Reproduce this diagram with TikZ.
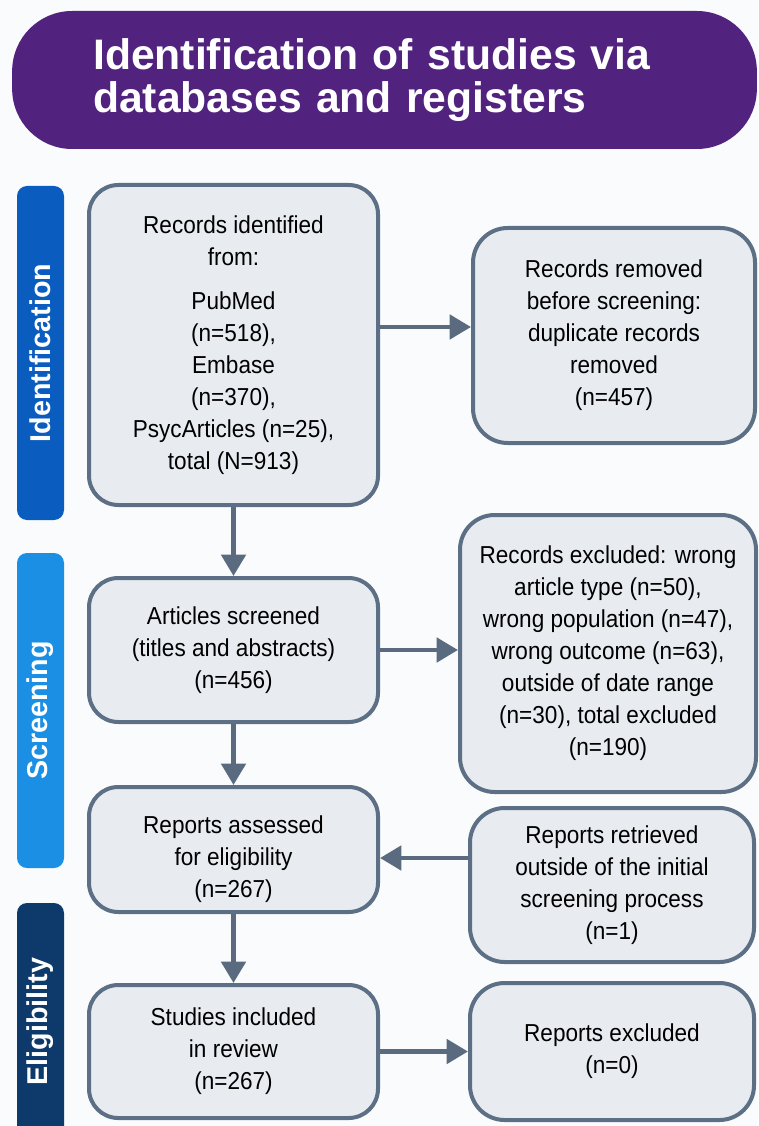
\documentclass[tikz,border=0pt]{standalone}
\usepackage{fontspec}
\setmainfont{Liberation Sans}
\newfontfamily\boxfont{Liberation Sans}[FakeStretch=0.92]
\usetikzlibrary{arrows.meta}
\definecolor{pagebg}{RGB}{250,251,252}
\definecolor{banner}{RGB}{81,35,127}
\definecolor{idcol}{RGB}{11,92,191}
\definecolor{scrcol}{RGB}{26,143,227}
\definecolor{elcol}{RGB}{13,58,106}
\definecolor{boxfill}{RGB}{232,236,241}
\definecolor{boxline}{RGB}{92,111,133}
\definecolor{arrowcol}{RGB}{90,107,128}
\tikzstyle{title}=[fill=banner,rounded corners=45pt,minimum height=103.5pt,text width=437pt,inner xsep=60.75pt,align=left,text=white,font=\fontsize{32}{32}\bfseries\selectfont]
\tikzstyle{phase}=[rotate=90,rounded corners=7.5pt,minimum height=35.25pt,inner sep=0pt,text=white,font=\fontsize{21.5}{24}\bfseries\selectfont]
\tikzstyle{box}=[draw=boxline,fill=boxfill,line width=3pt,rounded corners=22pt,align=center,inner sep=0pt,font=\boxfont\fontsize{18.4}{24}\selectfont]
\tikzstyle{edge}=[draw=arrowcol,line width=3.6pt,-{Triangle[length=16pt,width=18pt]}]

\begin{document}
\begin{tikzpicture}[x=0.75pt,y=-0.75pt]
    \fill[pagebg] (0,0) rectangle (758,1126);
    \useasboundingbox (0,0) rectangle (758,1126);

    % Banner at the top
    \node[title] (head) at (384.5,80) {Identification of studies via\\databases and registers};

    % Phase bars on the left
    \foreach \pos/\name/\col/\len/\txt in {{(40.5,353)/ident/idcol/250.5pt/Identification},
                                          {(40.5,710.5)/screen/scrcol/236.25pt/Screening},
                                          {(40.5,1021.5)/elig/elcol/177.75pt/Eligibility}}
        \node[phase,fill=\col,minimum width=\len] (\name) at \pos {\txt};

    % Left column
    \node[box,minimum width=216.75pt,minimum height=240pt] (rec) at (233.5,345)
        {Records identified\\from:\\[9pt]PubMed\\(n=518),\\Embase\\(n=370),\\PsycArticles (n=25),\\total (N=913)};
    \node[box,minimum width=216.75pt,minimum height=108pt] (scr) at (233.5,650)
        {Articles screened\\(titles and abstracts)\\(n=456)};
    \node[box,minimum width=216.75pt,minimum height=93.75pt] (ass) at (233.5,849.5)
        {\rule{0pt}{28pt}Reports assessed\\for eligibility\\(n=267)};
    \node[box,minimum width=216.75pt,minimum height=99.75pt] (inc) at (233.5,1051.5)
        {Studies included\\in review\\(n=267)};

    % Right column
    \node[box,rounded corners=26pt,minimum width=211.5pt,minimum height=161.25pt] (rem) at (614,335.5)
        {Records removed\\before screening:\\duplicate records\\removed\\(n=457)};
    \node[box,rounded corners=26pt,minimum width=222pt,minimum height=207.75pt] (excl) at (608,653.5)
        {Records excluded: wrong\\article type (n=50),\\wrong population (n=47),\\wrong outcome (n=63),\\outside of date range\\(n=30), total excluded\\(n=190)};
    \node[box,rounded corners=26pt,minimum width=213pt,minimum height=115.5pt] (ret) at (612,885)
        {Reports retrieved\\outside of the initial\\screening process\\(n=1)};
    \node[box,rounded corners=26pt,minimum width=213pt,minimum height=102.75pt] (repx) at (612,1051.5)
        {Reports excluded\\(n=0)};

    % Arrows down the left column
    \foreach \source/\dest in {rec/scr, scr/ass, ass/inc}
        \path[edge] (\source) -- (\dest);

    % Arrows across
    \coordinate (a1) at ([yshift=13.5pt]rec.east);
    \path[edge] (a1) -- (a1 -| rem.west);
    \path[edge] (scr.east) -- (scr.east -| excl.west);
    \coordinate (a3) at ([yshift=20.25pt]ret.west);
    \path[edge] (a3) -- (a3 -| ass.east);
    \path[edge] (inc.east) -- (inc.east -| repx.west);
\end{tikzpicture}
\end{document}
